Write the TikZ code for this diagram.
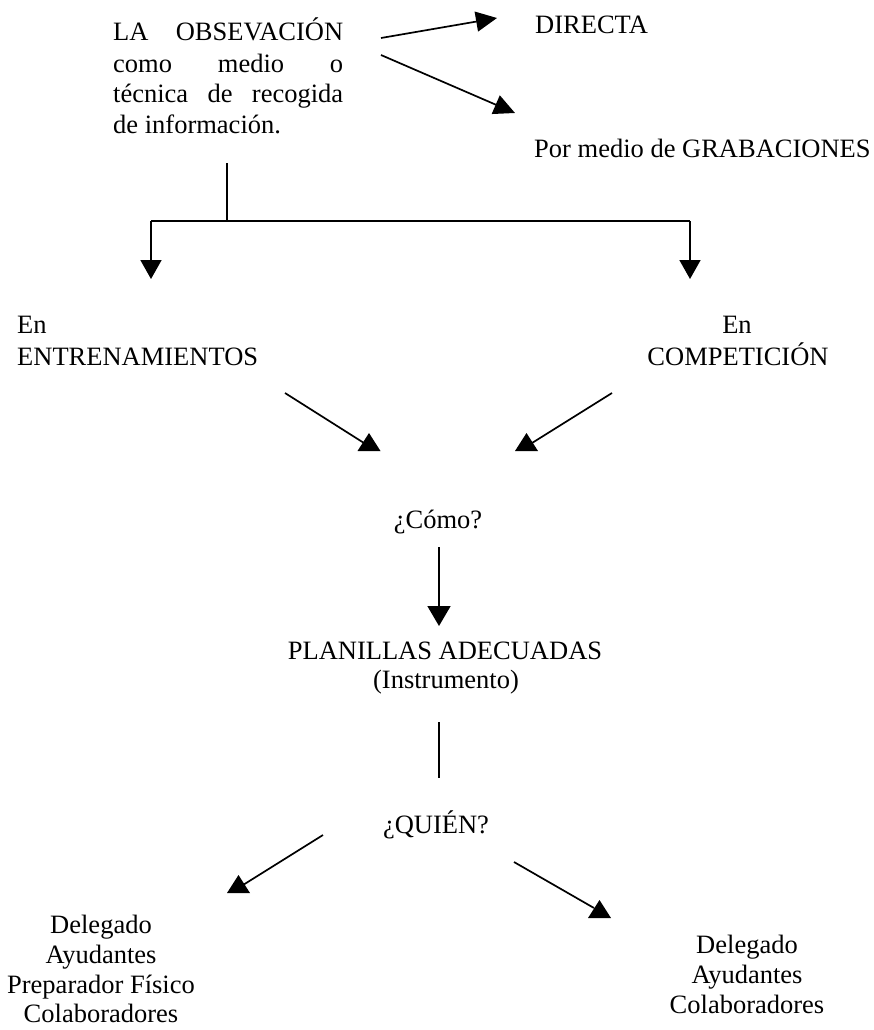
\documentclass[tikz,border=0pt]{standalone}
\usepackage{fontspec}
\setmainfont{Liberation Serif}
\usetikzlibrary{arrows.meta}

\begin{document}
\begin{tikzpicture}[x=1bp,y=-1bp,
  txt/.style={inner sep=0pt, font=\fontsize{26.5bp}{32bp}\selectfont},
  link/.style={line width=1.7bp, draw=black},
  arr/.style={link, -{Triangle[length=21bp,width=20bp]}},
  downarr/.style={link, -{Triangle[length=19bp,width=21bp]}},
  uphead/.pic={\fill (0,0) -- (-11.5,18) -- (11.5,18) -- cycle;}]

\useasboundingbox (0,0) rectangle (874,1030);

% heading block, justified lines
\node[txt, anchor=base west] (h1) at (113,40.5) {\hbox to 230bp{LA\hfill OBSEVACIÓN}};
\node[txt, anchor=base west] (h2) at (113,72) {\hbox to 230bp{como\hfill medio\hfill o}};
\node[txt, anchor=base west] (h3) at (113,102.5) {\hbox to 230bp{técnica\hfill de\hfill recogida}};
\node[txt, anchor=base west] (h4) at (113,133) {de información.};

% the two ways of observing
\node[txt, anchor=base west] (directa) at (535,33) {DIRECTA};
\node[txt, anchor=base west] (grab) at (534,157) {Por medio de GRABACIONES};

\coordinate (d0) at (381,38);
\coordinate (d1) at (497,18);
\coordinate (g0) at (381,55);
\coordinate (g1) at (515,113);
\draw[arr] (d0) -- (d1);
\draw[arr] (g0) -- (g1);

% fork to the two settings
\coordinate (f0) at (227,163);
\coordinate (f1) at (227,221);
\coordinate (fl) at (151,221);
\coordinate (fr) at (690,221);
\coordinate (fld) at (151,279);
\coordinate (frd) at (690,279);
\draw[link] (f0) -- (f1);
\draw[link] (fl) -- (fr);
\draw[downarr] (fl) -- (fld);
\draw[downarr] (fr) -- (frd);

\node[txt, anchor=base west] (en1) at (17,333) {En};
\node[txt, anchor=base west] (entr) at (17,365) {ENTRENAMIENTOS};
\node[txt, anchor=base] (en2) at (737,333) {En};
\node[txt, anchor=base] (comp) at (738,365) {COMPETICIÓN};

% both settings lead to the question
\coordinate (ml0) at (285,393);
\coordinate (ml1) at (364,443);
\coordinate (mr0) at (612,393);
\coordinate (mr1) at (532,443);
\draw[link] (ml0) -- (ml1);
\draw[link] (mr0) -- (mr1);
\pic at (369,433) {uphead};
\pic at (526.5,433) {uphead};

\node[txt, anchor=base] (como) at (438,528) {¿Cómo?};

\coordinate (c0) at (439,547);
\coordinate (c1) at (439,626);
\draw[link, -{Triangle[length=20bp,width=23bp]}] (c0) -- (c1);

\node[txt, anchor=base] (plan) at (445,659) {PLANILLAS ADECUADAS};
\node[txt, anchor=base] (instr) at (446,688) {(Instrumento)};

\coordinate (v0) at (439,722);
\coordinate (v1) at (439,778);
\draw[link] (v0) -- (v1);

\node[txt, anchor=base] (quien) at (436,833) {¿QUIÉN?};

% who takes part
\coordinate (ql0) at (323,835);
\coordinate (ql1) at (243,885);
\coordinate (qr0) at (514,862);
\coordinate (qr1) at (594,908);
\draw[link] (ql0) -- (ql1);
\draw[link] (qr0) -- (qr1);
\pic at (238.5,875) {uphead};
\pic at (599.5,900) {uphead};

\node[txt, anchor=base] (l1) at (101,933) {Delegado};
\node[txt, anchor=base] (l2) at (101,963) {Ayudantes};
\node[txt, anchor=base] (l3) at (101,993) {Preparador Físico};
\node[txt, anchor=base] (l4) at (101,1022) {Colaboradores};

\node[txt, anchor=base] (r1) at (747,953) {Delegado};
\node[txt, anchor=base] (r2) at (747,983) {Ayudantes};
\node[txt, anchor=base] (r3) at (747,1013) {Colaboradores};

\end{tikzpicture}
\end{document}
